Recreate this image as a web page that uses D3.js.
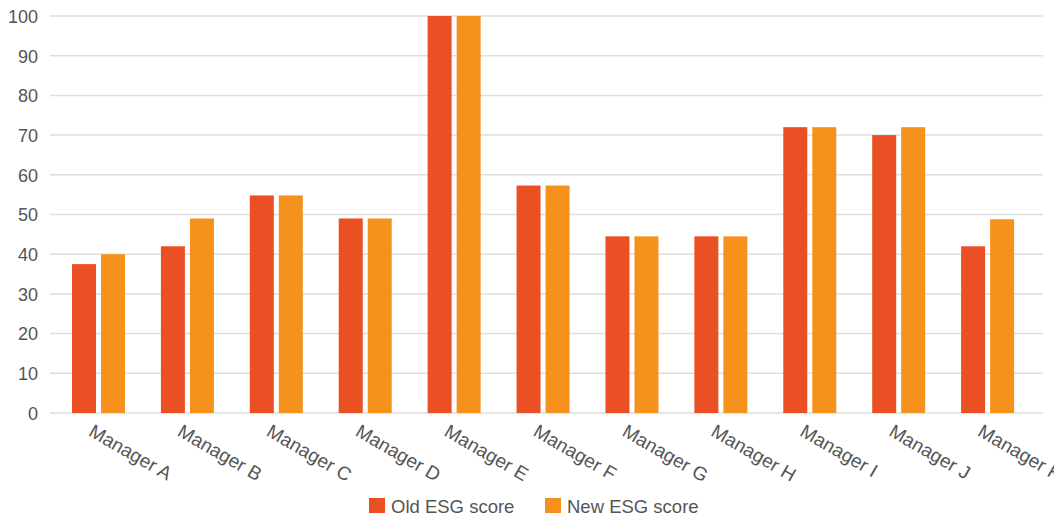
<!DOCTYPE html>
<html><head><meta charset="utf-8">
<script src="https://cdn.jsdelivr.net/npm/d3@7"></script>
<style>body{margin:0;background:#fff}svg text{font-family:"Liberation Sans",Arial,sans-serif}</style>
</head><body><svg id="c" width="1054" height="519"></svg>
<script>
const categories = ["Manager A","Manager B","Manager C","Manager D","Manager E","Manager F","Manager G","Manager H","Manager I","Manager J","Manager K"];
const oldScores = [37.5,42,54.8,49,100,57.3,44.5,44.5,72,70,42];
const newScores = [40,49,54.8,49,100,57.3,44.5,44.5,72,72,48.8];
const seriesNames = ["Old ESG score","New ESG score"];
const colors = ["#EB5025","#F5921E"];
const yTicks = [0,10,20,30,40,50,60,70,80,90,100];

const svg = d3.select("#c");
const x = d3.scaleBand().domain(categories).range([54,1032]);
const xs = d3.scaleBand().domain([0,1]).range([18,71]).paddingInner(0.1724);
const y = d3.scaleLinear().domain([0,100]).range([413,16]);

const grid = svg.append("g");
grid.selectAll("line").data(yTicks).join("line")
  .attr("x1",50).attr("x2",1043).attr("y1",d=>y(d)).attr("y2",d=>y(d))
  .attr("stroke","#dedede").attr("stroke-width",1.5);

const yAxis = d3.axisLeft(y).tickValues(yTicks).tickSize(0).tickPadding(0);
svg.append("g").attr("transform","translate(38,0)").call(yAxis)
  .call(g=>g.select(".domain").remove())
  .selectAll("text").attr("font-size",18).attr("fill","#555").attr("dy","0.35em");

const data = categories.map((c,i)=>({c,vals:[oldScores[i],newScores[i]]}));
const groups = svg.append("g").selectAll("g").data(data).join("g")
  .attr("transform",d=>`translate(${x(d.c)},0)`);
groups.selectAll("rect").data(d=>d.vals.map((v,k)=>({v,k}))).join("rect")
  .attr("x",d=>xs(d.k)).attr("width",xs.bandwidth())
  .attr("y",d=>y(d.v)).attr("height",d=>y(0)-y(d.v))
  .attr("fill",d=>colors[d.k]);

const xAxis = d3.axisBottom(x).tickSize(0).tickPadding(0);
svg.append("g").attr("transform","translate(0,413)").call(xAxis)
  .call(g=>g.select(".domain").remove())
  .selectAll("text").attr("font-size",19).attr("fill","#555")
  .attr("text-anchor","start").attr("dy",0)
  .attr("transform","translate(-11,22) rotate(30)").attr("y",0).attr("x",0);

const legend = svg.append("g");
const lx = [369,545];
seriesNames.forEach((n,i)=>{
  legend.append("rect").attr("x",lx[i]).attr("y",498).attr("width",16).attr("height",15).attr("fill",colors[i]);
  legend.append("text").attr("x",lx[i]+22).attr("y",513).attr("font-size",18.5).attr("fill","#555").text(n);
});
</script></body></html>
